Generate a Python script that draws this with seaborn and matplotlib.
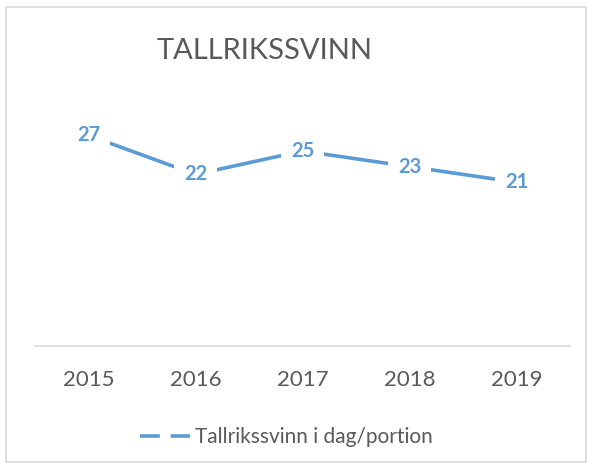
import matplotlib
matplotlib.use('Agg')
import matplotlib.pyplot as plt
import seaborn as sns
import pandas as pd
from matplotlib.lines import Line2D
from matplotlib.patches import Rectangle

# Data
years = ['2015', '2016', '2017', '2018', '2019']
svinn = [27, 22, 25, 23, 21]
series_name = 'Tallrikssvinn i dag/portion'
title = 'TALLRIKSSVINN'

blue = '#5B9BD5'
grey = '#595959'
fam = ['Lato', 'DejaVu Sans']

sns.set_theme(style='white')
plt.rcParams['font.family'] = fam

df = pd.DataFrame({'year': years, 'value': svinn})

fig = plt.figure(figsize=(5.92, 4.68), dpi=100)
ax = fig.add_axes([35 / 592, 1 - 346 / 468, 535 / 592, 234 / 468])

sns.lineplot(data=df, x='year', y='value', ax=ax, color=blue, linewidth=2.6,
             legend=False, zorder=2)

# data labels with white box to cut the line like Excel does
for i, v in enumerate(svinn):
    ax.text(i, v, str(v), ha='center', va='center', fontsize=14.5, fontweight='bold',
            color=blue, zorder=3,
            bbox=dict(boxstyle='square,pad=0.5', facecolor='white', edgecolor='none'))

ax.set_xlim(-0.5, len(years) - 0.5)
ax.set_ylim(0, 30)
ax.set_yticks([])
ax.set_xlabel('')
ax.set_ylabel('')
for s in ['top', 'left', 'right']:
    ax.spines[s].set_visible(False)
ax.spines['bottom'].set_color('#D9D9D9')
ax.spines['bottom'].set_linewidth(1.2)
ax.tick_params(axis='x', length=0, pad=17, labelsize=16, labelcolor=grey)

fig.text(265 / 592, 1 - 51 / 468, title, ha='center', va='center', fontsize=21,
         color=grey)

handle = Line2D([0], [0], color=blue, linewidth=2.6, dashes=(5.5, 3))
fig.legend([handle], [series_name], loc='center', bbox_to_anchor=(286 / 592, 1 - 437 / 468),
           frameon=False, handlelength=2.4, handletextpad=0.25,
           prop={'size': 15}, labelcolor=grey)

fig.patches.append(Rectangle((6 / 592, 6 / 468), 580 / 592, 455 / 468, transform=fig.transFigure,
                             fill=False, edgecolor='#D9D9D9', linewidth=1.2))

fig.savefig('out.png', dpi=100)
